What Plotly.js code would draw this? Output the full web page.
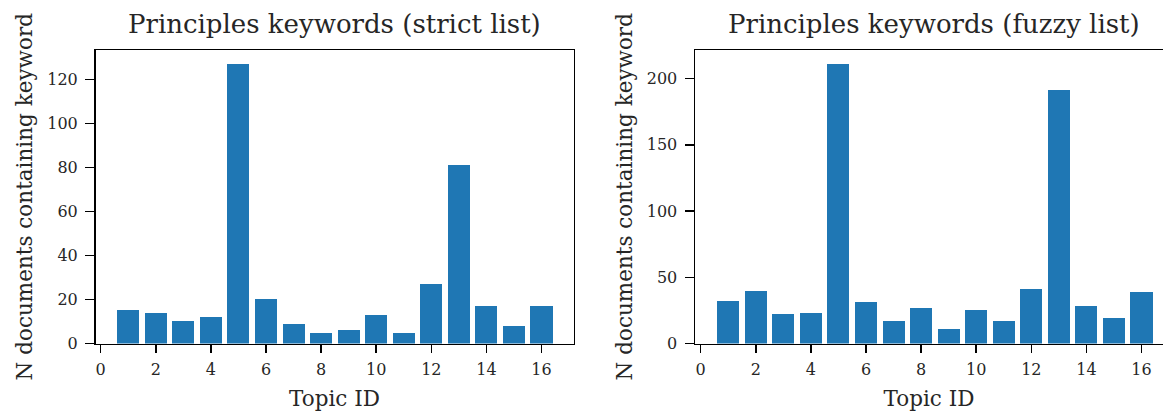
<!DOCTYPE html>
<html>
<head>
<meta charset="utf-8">
<script src="https://cdn.plot.ly/plotly-3.0.1.min.js"></script>
<style>
html,body{margin:0;padding:0;background:#fff;}
#chart{width:1163px;height:411px;}
</style>
</head>
<body>
<div id="chart"></div>
<script>
const topicIds = [1,2,3,4,5,6,7,8,9,10,11,12,13,14,15,16];
const strictCounts = [15,14,10,12,127,20,9,5,6,13,5,27,81,17,8,17];
const fuzzyCounts = [32,40,22,23,211,31,17,27,11,25,17,41,191,28,19,39];
const titles = ["Principles keywords (strict list)", "Principles keywords (fuzzy list)"];
const xLabel = "Topic ID";
const yLabel = "N documents containing keyword";
const xTicks = [0,2,4,6,8,10,12,14,16];

const W = 1163, H = 411;
const FONT = "DejaVu Serif, serif";
const TXT = "#262626";
const barColor = "#1f77b4";

const traces = [
  {type:"bar", x: topicIds, y: strictCounts, width: 0.8, marker:{color:barColor, line:{width:0}}, xaxis:"x", yaxis:"y", hoverinfo:"x+y"},
  {type:"bar", x: topicIds, y: fuzzyCounts, width: 0.8, marker:{color:barColor, line:{width:0}}, xaxis:"x2", yaxis:"y2", hoverinfo:"x+y"}
];

const pxPerUnit = 27.55;
const zeroL = 100.7, zeroR = 700.7;
const dL = [95.5, 573.5], dR = [695, 1163];
const yBottom = 343.5, yTop = 50;

function xax(dom, zero){
  return {
    domain:[dom[0]/W, dom[1]/W],
    range:[(dom[0]-zero)/pxPerUnit, (dom[1]-zero)/pxPerUnit],
    tickvals: xTicks, ticktext: xTicks.map(String),
    ticks:"outside", ticklen:8, tickwidth:1.5, tickcolor:"#000",
    ticklabelstandoff:3,
    showline:true, linecolor:"#000", linewidth:1.5, mirror: true,
    showgrid:false, zeroline:false,
    tickfont:{family:FONT, size:16, color:TXT},
    title:{text:xLabel, font:{family:FONT, size:21.5, color:TXT}, standoff:14},
    fixedrange:true
  };
}
function yax(maxV, dtick, anchor, mirror){
  return {
    domain:[(H-yBottom)/H, (H-yTop)/H],
    range:[0, maxV*1.05],
    dtick: dtick, tick0:0,
    anchor: anchor,
    ticks:"outside", ticklen:9, tickwidth:1.5, tickcolor:"#000",
    ticklabelstandoff:4,
    showline:true, linecolor:"#000", linewidth:1.5, mirror: mirror,
    showgrid:false, zeroline:false,
    tickfont:{family:FONT, size:16, color:TXT},
    title:{text:yLabel, font:{family:FONT, size:21.5, color:TXT}, standoff:8},
    fixedrange:true
  };
}

const layout = {
  width:W, height:H,
  margin:{l:0, r:0, t:0, b:0, pad:0},
  paper_bgcolor:"#fff", plot_bgcolor:"#fff",
  showlegend:false,
  bargap:0,
  xaxis: Object.assign(xax(dL, zeroL), {anchor:"y"}),
  yaxis: yax(Math.max(...strictCounts), 20, "x", true),
  xaxis2: Object.assign(xax(dR, zeroR), {anchor:"y2"}),
  yaxis2: yax(Math.max(...fuzzyCounts), 50, "x2", false),
  annotations: [
    {text:titles[0], xref:"paper", yref:"paper", x:334.5/W, y:(H-24.5)/H, xanchor:"center", yanchor:"middle", showarrow:false, font:{family:FONT, size:26, color:TXT}},
    {text:titles[1], xref:"paper", yref:"paper", x:934/W, y:(H-24.5)/H, xanchor:"center", yanchor:"middle", showarrow:false, font:{family:FONT, size:26, color:TXT}}
  ]
};

Plotly.newPlot("chart", traces, layout, {displayModeBar:false, staticPlot:true});
</script>
</body>
</html>
